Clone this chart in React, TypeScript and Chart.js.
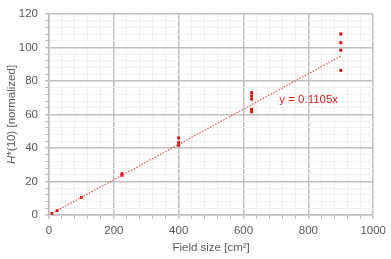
import React, { useEffect, useRef } from "react";
import { Chart, registerables } from "chart.js";

Chart.register(...registerables);

const fieldSizes = [9, 25, 100, 225, 225, 400, 400, 400, 625, 625, 625, 625, 625, 900, 900, 900, 900];
const hValues = [1.0, 2.6, 10.5, 24.6, 23.6, 46.0, 43.2, 41.5, 73.0, 71.1, 69.2, 63.0, 61.6, 108.0, 102.8, 98.3, 86.3];
const trendX = [9, 900];
const trendY = [0.95, 94.8];
const trendLabel = "y = 0.1105x";
const labelAnchor = { x: 710, y: 68.8 };
const xTickLabels = [0, 200, 400, 600, 800, 1000];
const yTickLabels = [0, 20, 40, 60, 80, 100, 120];

const FONT = "'Liberation Sans', Arial, sans-serif";
const TEXT = "#595959";
const FS = 11.5;

const overlay = {
  id: "overlay",
  afterDatasetsDraw(chart: any) {
    const ctx = chart.ctx;
    const xs = chart.scales.x;
    const ys = chart.scales.y;
    ctx.save();
    ctx.fillStyle = "#e02020";
    ctx.font = `${FS}px ${FONT}`;
    ctx.textAlign = "left";
    ctx.textBaseline = "middle";
    ctx.fillText(trendLabel, xs.getPixelForValue(labelAnchor.x), ys.getPixelForValue(labelAnchor.y));
    const cy = (chart.chartArea.top + chart.chartArea.bottom) / 2;
    ctx.translate(12, cy);
    ctx.rotate(-Math.PI / 2);
    ctx.fillStyle = TEXT;
    ctx.textBaseline = "middle";
    const a = "H";
    const b = "*(10) [normalized]";
    ctx.font = `italic ${FS}px ${FONT}`;
    const wa = ctx.measureText(a).width;
    ctx.font = `${FS}px ${FONT}`;
    const wb = ctx.measureText(b).width;
    const start = -(wa + wb) / 2;
    ctx.font = `italic ${FS}px ${FONT}`;
    ctx.fillText(a, start, 0);
    ctx.font = `${FS}px ${FONT}`;
    ctx.fillText(b, start + wa, 0);
    ctx.restore();
  },
};

export default function App() {
  const ref = useRef<HTMLCanvasElement>(null);
  useEffect(() => {
    const points = fieldSizes.map((x, i) => ({ x, y: hValues[i] }));
    const trend = trendX.map((x, i) => ({ x, y: trendY[i] }));
    const chart = new Chart(ref.current!, {
      type: "scatter",
      data: {
        datasets: [
          {
            type: "line",
            data: trend,
            borderColor: "#e85050",
            borderWidth: 1.2,
            borderDash: [1.5, 1.5],
            pointRadius: 0,
            fill: false,
          } as any,
          {
            data: points,
            pointStyle: "rect",
            pointRadius: 2,
            backgroundColor: "#e00000",
            borderColor: "#e00000",
            borderWidth: 0,
          },
        ],
      },
      options: {
        animation: false,
        responsive: false,
        layout: { padding: { top: 7, right: 17, left: 0, bottom: 0 } },
        plugins: { legend: { display: false }, tooltip: { enabled: false } },
        scales: {
          x: {
            type: "linear",
            min: 0,
            max: 1000,
            afterFit: (s: any) => { s.height = 44; },
            afterBuildTicks: (s: any) => {
              const t = [];
              for (let v = 0; v <= 1000; v += 40) t.push({ value: v });
              s.ticks = t;
            },
            ticks: {
              autoSkip: false,
              maxRotation: 0,
              padding: 5,
              color: TEXT,
              font: { family: FONT, size: FS },
              callback: (v: any) => (xTickLabels.includes(v) ? String(v) : ""),
            },
            grid: {
              color: (c: any) => (c.tick && c.tick.value % 200 === 0 ? "#c0c0c0" : "#f0f0f0"),
              lineWidth: (c: any) => (c.tick && c.tick.value % 200 === 0 ? 1.5 : 1),
              tickColor: "#bfbfbf",
              tickLength: 4,
            },
            border: { color: "#bfbfbf", width: 1.5 },
            title: {
              display: true,
              text: "Field size [cm²]",
              color: TEXT,
              font: { family: FONT, size: FS },
              padding: { top: 0, bottom: 4 },
            },
          },
          y: {
            type: "linear",
            min: 0,
            max: 120,
            afterFit: (s: any) => { s.width = 49; },
            afterBuildTicks: (s: any) => {
              const t = [];
              for (let v = 0; v <= 120; v += 4) t.push({ value: v });
              s.ticks = t;
            },
            ticks: {
              autoSkip: false,
              padding: 7,
              color: TEXT,
              font: { family: FONT, size: FS },
              callback: (v: any) => (yTickLabels.includes(v) ? String(v) : ""),
            },
            grid: {
              color: (c: any) => (c.tick && c.tick.value % 20 === 0 ? "#c0c0c0" : "#f0f0f0"),
              lineWidth: (c: any) => (c.tick && c.tick.value % 20 === 0 ? 1.5 : 1),
              tickColor: "#bfbfbf",
              tickLength: 4,
            },
            border: { color: "#bfbfbf", width: 1.5 },
          },
        },
      },
      plugins: [overlay],
    });
    return () => chart.destroy();
  }, []);
  return (
    <div style={{ position: "fixed", left: 0, top: 0, width: 391, height: 259, background: "#fff" }}>
      <canvas ref={ref} width={391} height={259} style={{ width: 391, height: 259 }} />
    </div>
  );
}
